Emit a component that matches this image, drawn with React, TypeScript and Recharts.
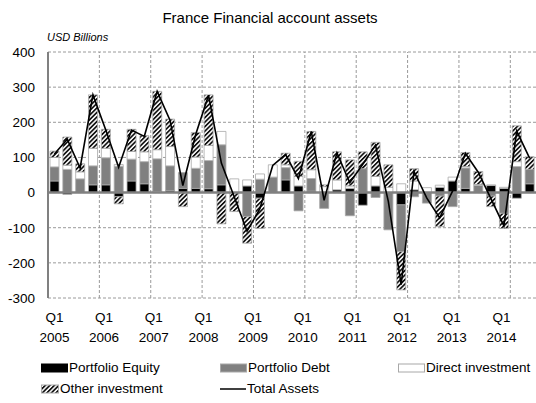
import React from "react";
import {
  ComposedChart,
  Bar,
  Line,
  XAxis,
  YAxis,
  CartesianGrid,
  ReferenceLine,
} from "recharts";

const quarters = [
  "Q1 2005", "Q2 2005", "Q3 2005", "Q4 2005",
  "Q1 2006", "Q2 2006", "Q3 2006", "Q4 2006",
  "Q1 2007", "Q2 2007", "Q3 2007", "Q4 2007",
  "Q1 2008", "Q2 2008", "Q3 2008", "Q4 2008",
  "Q1 2009", "Q2 2009", "Q3 2009", "Q4 2009",
  "Q1 2010", "Q2 2010", "Q3 2010", "Q4 2010",
  "Q1 2011", "Q2 2011", "Q3 2011", "Q4 2011",
  "Q1 2012", "Q2 2012", "Q3 2012", "Q4 2012",
  "Q1 2013", "Q2 2013", "Q3 2013", "Q4 2013",
  "Q1 2014", "Q2 2014",
];

const portfolioEquity = [
  33, -5, 0, 22, 22, -12, 33, 25, 3, 5, 12, 12, 11, 22, 0, 19, -16, 0, 36, 19,
  4, 0, 8, 12, -36, 19, 0, -35, 8, 0, 15, 33, 12, 0, 20, 12, -16, 25,
];
const portfolioDebt = [
  40, 66, 39, 54, 77, 75, 62, 63, 93, 71, 45, 57, 80, 114, 0, -68, 38, 44, 35, -52,
  36, -45, 0, -66, 68, -14, -106, -133, -12, -30, -10, -40, 58, 20, -10, -59, 74, 41,
];
const directInvestment = [
  27, 12, 20, 50, 27, 5, 22, 28, 26, 55, 0, 32, 43, 38, 39, 17, 15, 35, 8, 27,
  25, 17, 28, 7, 0, 27, 15, 25, 25, 14, 6, 11, 4, 3, 2, 3, 14, 0,
];
const otherInvestment = [
  18, 80, 23, 152, 54, -20, 63, 46, 166, 78, -40, 70, 144, -89, -54, -76, -86, 0, 33, 43,
  109, 5, 80, 74, 48, 97, 64, -109, 35, 0, -87, 0, 40, 37, -30, -43, 102, 36,
];
const totalAssets = [
  110, 152, 70, 278, 178, 72, 178, 160, 288, 206, 20, 165, 277, 84, -12, -110, -46, 77, 108, 40,
  174, -22, 113, 28, 80, 135, -25, -262, 60, -16, -72, 4, 112, 58, -18, -95, 175, 98,
];

const yTicks = [-300, -200, -100, 0, 100, 200, 300, 400];

const data = quarters.map((q, i) => ({
  q,
  equity: portfolioEquity[i],
  debt: portfolioDebt[i],
  direct: directInvestment[i],
  other: otherInvestment[i],
  total: totalAssets[i],
}));

const yearStarts = quarters.filter((q, i) => i > 0 && q.startsWith("Q1"));

const FONT = "'Liberation Sans', Arial, sans-serif";
const OUTLINE = "#a8a8a8";

function QuarterTick(props: any) {
  const { x, y, payload, index } = props;
  const [qt, yr] = String(payload.value).split(" ");
  // labels drift slightly left of the bars in the original
  const dx = -index * 1.7;
  return (
    <text x={x + dx} y={y} textAnchor="middle" fontSize={13.5} fontFamily={FONT} fill="#000">
      <tspan x={x + dx} dy={16}>{qt}</tspan>
      <tspan x={x + dx} dy={20}>{yr}</tspan>
    </text>
  );
}

function LegendIcon({ kind }: { kind: string }) {
  if (kind === "line") {
    return (
      <svg width={26} height={10} style={{ display: "block" }}>
        <line x1={0} y1={5} x2={26} y2={5} stroke="#000" strokeWidth={1.5} />
      </svg>
    );
  }
  const fill =
    kind === "equity" ? "#000" : kind === "debt" ? "#808080" : kind === "direct" ? "#fff" : "url(#hatch)";
  const w = kind === "other" ? 18 : 27;
  return (
    <svg width={w} height={10} style={{ display: "block" }}>
      <rect x={0.5} y={1} width={w - 1} height={8} fill={fill} stroke={kind === "equity" ? "#000" : OUTLINE} />
    </svg>
  );
}

const legendItems = [
  { kind: "equity", label: "Portfolio Equity", left: 41, top: 360 },
  { kind: "debt", label: "Portfolio Debt", left: 220, top: 360 },
  { kind: "direct", label: "Direct investment", left: 398, top: 360 },
  { kind: "other", label: "Other investment", left: 41, top: 381 },
  { kind: "line", label: "Total Assets", left: 220, top: 381 },
];

export default function App() {
  return (
    <div style={{ position: "absolute", left: 0, top: 0, width: 536, height: 403, background: "#fff", overflow: "hidden" }}>
      <div
        style={{
          position: "absolute",
          top: 9,
          left: 0,
          width: 540,
          textAlign: "center",
          fontFamily: FONT,
          fontSize: 15,
          color: "#000",
        }}
      >
        France Financial account assets
      </div>
      <div
        style={{
          position: "absolute",
          top: 31,
          left: 47,
          fontFamily: FONT,
          fontSize: 11,
          fontStyle: "italic",
          color: "#000",
        }}
      >
        USD Billions
      </div>
      <ComposedChart
        width={536}
        height={403}
        data={data}
        stackOffset="sign"
        margin={{ top: 52, right: 0, left: 0, bottom: 55 }}
        barSize={9}
      >
        <defs>
          <pattern id="hatch" patternUnits="userSpaceOnUse" width={3.2} height={3.2} patternTransform="rotate(45)">
            <rect width={3.2} height={3.2} fill="#fff" />
            <rect width={1.7} height={3.2} fill="#111" />
          </pattern>
        </defs>
        <CartesianGrid vertical={false} stroke="#9a9a9a" strokeDasharray="3 2" />
        {yearStarts.map((q) => (
          <ReferenceLine key={q} x={q} position="start" stroke="#9a9a9a" strokeDasharray="3 2" />
        ))}
        <XAxis
          dataKey="q"
          interval={3}
          axisLine={false}
          tickLine={false}
          height={50}
          tick={<QuarterTick />}
        />
        <YAxis
          domain={[-300, 400]}
          ticks={yTicks}
          width={48}
          axisLine={{ stroke: "#808080", strokeWidth: 2 }}
          tickLine={false}
          tickMargin={7}
          tick={{ fontSize: 13.5, fontFamily: FONT, fill: "#000" }}
        />
        <ReferenceLine y={0} stroke="#808080" strokeWidth={2.5} />
        <Bar dataKey="equity" stackId="a" fill="#000" stroke={OUTLINE} strokeWidth={0.8} isAnimationActive={false} />
        <Bar dataKey="debt" stackId="a" fill="#808080" stroke={OUTLINE} strokeWidth={0.8} isAnimationActive={false} />
        <Bar dataKey="direct" stackId="a" fill="#fff" stroke={OUTLINE} strokeWidth={0.8} isAnimationActive={false} />
        <Bar dataKey="other" stackId="a" fill="url(#hatch)" stroke={OUTLINE} strokeWidth={0.8} isAnimationActive={false} />
        <Line
          dataKey="total"
          type="linear"
          stroke="#000"
          strokeWidth={1.6}
          dot={false}
          isAnimationActive={false}
        />
      </ComposedChart>
      {legendItems.map((it) => (
        <div
          key={it.label}
          style={{
            position: "absolute",
            left: it.left,
            top: it.top,
            display: "flex",
            alignItems: "center",
            gap: 1,
            fontFamily: FONT,
            fontSize: 13.5,
            color: "#000",
            whiteSpace: "nowrap",
          }}
        >
          <LegendIcon kind={it.kind} />
          <span>{it.label}</span>
        </div>
      ))}
    </div>
  );
}
